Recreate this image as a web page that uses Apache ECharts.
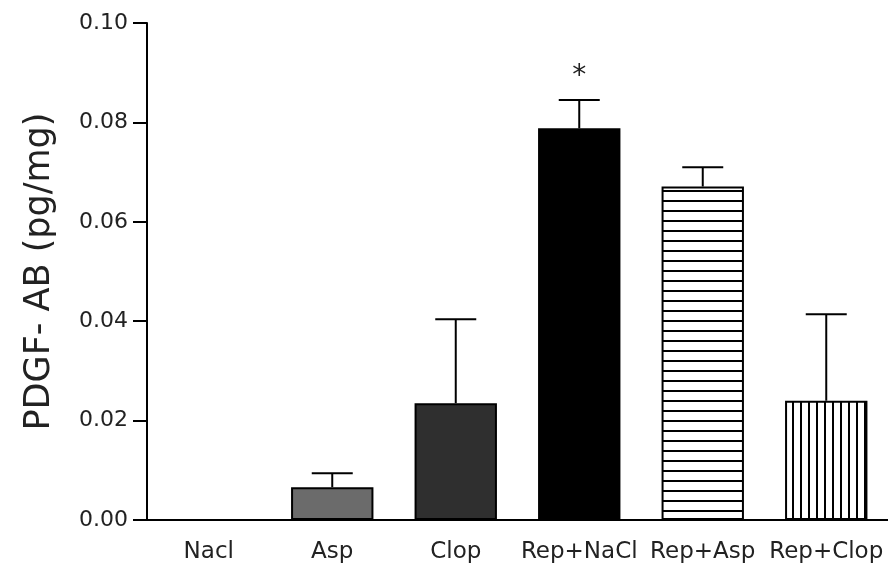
<!DOCTYPE html>
<html>
<head>
<meta charset="utf-8">
<script src="https://cdn.jsdelivr.net/npm/echarts@6/dist/echarts.min.js"></script>
<style>
  html, body { margin: 0; padding: 0; background: #fff; }
  #chart { width: 888px; height: 572px; }
</style>
</head>
<body>
<div id="chart"></div>
<script>
// Groups, mean PDGF-AB levels and upper error (SEM)
const categories = ['Nacl', 'Asp', 'Clop', 'Rep+NaCl', 'Rep+Asp', 'Rep+Clop'];
const means = [0, 0.0066, 0.0235, 0.0788, 0.0671, 0.0240];
const errors = [0, 0.0028, 0.0169, 0.0057, 0.0039, 0.0174];
const significance = ['', '', '', '*', '', ''];
const yTicks = [0, 0.02, 0.04, 0.06, 0.08, 0.10];

const FONT = '"DejaVu Sans", "Liberation Sans", Arial, sans-serif';
const INK = '#222222';

// Stripe pattern tiles for the hatched bars
function stripeTile(horizontal, step, width) {
  const c = document.createElement('canvas');
  c.width = step; c.height = step;
  const g = c.getContext('2d');
  g.fillStyle = '#fff';
  g.fillRect(0, 0, step, step);
  g.fillStyle = '#000';
  if (horizontal) g.fillRect(0, 0, step, width);
  else g.fillRect(0, 0, width, step);
  return c;
}

const fills = [
  '#ffffff',
  '#6b6b6b',
  '#2f2f2f',
  '#000000',
  { image: stripeTile(true, 10, 2), repeat: 'repeat' },
  { image: stripeTile(false, 8, 2), repeat: 'repeat' }
];

const chart = echarts.init(document.getElementById('chart'), null, { renderer: 'canvas' });

chart.setOption({
  animation: false,
  backgroundColor: '#ffffff',
  grid: { left: 147, width: 747, top: 23, bottom: 52, containLabel: false },
  xAxis: {
    type: 'category',
    data: categories,
    axisLine: { lineStyle: { color: '#000', width: 2 } },
    axisTick: { show: false },
    axisLabel: { color: INK, fontFamily: FONT, fontSize: 23, margin: 21, interval: 0 },
    splitLine: { show: false }
  },
  yAxis: {
    type: 'value',
    min: yTicks[0],
    max: yTicks[yTicks.length - 1],
    interval: yTicks[1] - yTicks[0],
    name: 'PDGF- AB (pg/mg)',
    nameLocation: 'middle',
    nameGap: 90,
    nameTextStyle: { color: INK, fontFamily: FONT, fontSize: 35 },
    axisLine: { show: true, lineStyle: { color: '#000', width: 2 } },
    axisTick: { show: true, length: 14, lineStyle: { color: '#000', width: 2 } },
    axisLabel: {
      color: INK, fontFamily: FONT, fontSize: 22, margin: 19,
      formatter: v => v.toFixed(2)
    },
    splitLine: { show: false }
  },
  series: [
    {
      type: 'bar',
      barWidth: '66.7%',
      data: means.map((v, i) => ({ value: v, itemStyle: { color: fills[i] } })),
      itemStyle: { borderColor: '#000', borderWidth: 2 },
      z: 2
    },
    {
      type: 'custom',
      data: means.map((m, i) => [i, m, m + errors[i]]),
      encode: { x: 0, y: [1, 2] },
      z: 3,
      renderItem(params, api) {
        const i = params.dataIndex;
        if (!errors[i]) return null;
        const base = api.coord([api.value(0), api.value(1)]);
        const top = api.coord([api.value(0), api.value(2)]);
        const half = 20.5;
        const style = { stroke: '#000', lineWidth: 2 };
        const children = [
          { type: 'line', shape: { x1: base[0], y1: base[1], x2: top[0], y2: top[1] }, style },
          { type: 'line', shape: { x1: top[0] - half, y1: top[1], x2: top[0] + half, y2: top[1] }, style }
        ];
        if (significance[i]) {
          children.push({
            type: 'text',
            style: {
              text: significance[i], x: top[0], y: top[1] - 23,
              align: 'center', verticalAlign: 'middle',
              fill: INK, font: '28px ' + FONT
            }
          });
        }
        return { type: 'group', children };
      }
    }
  ]
});
</script>
</body>
</html>
